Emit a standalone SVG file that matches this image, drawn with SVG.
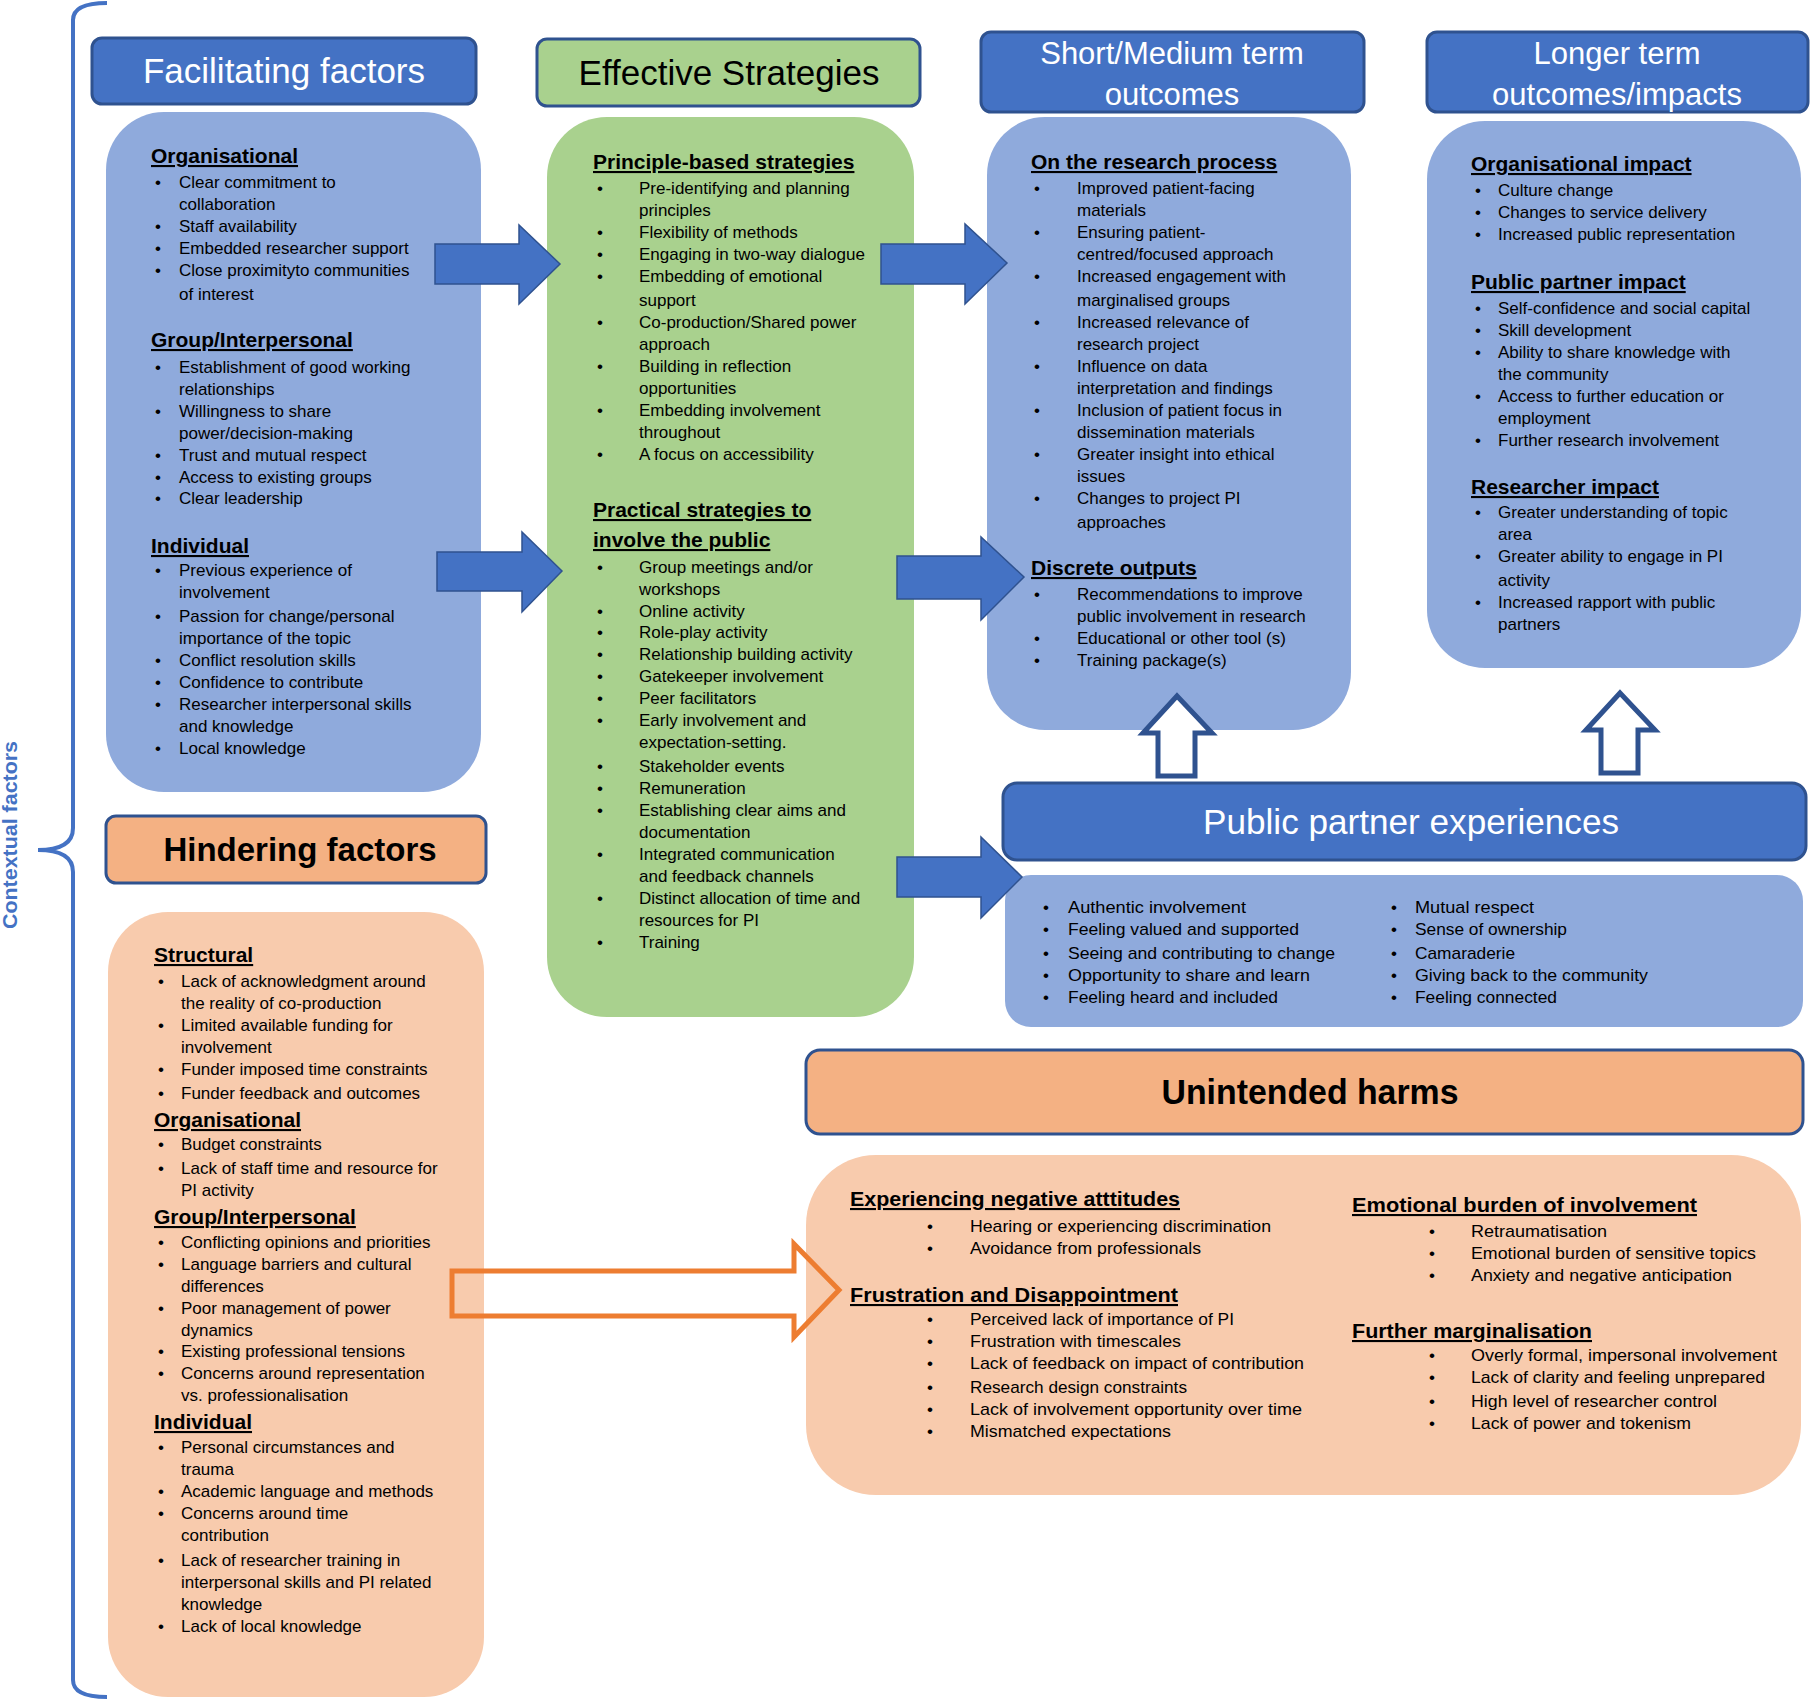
<svg xmlns="http://www.w3.org/2000/svg" width="1810" height="1701" viewBox="0 0 1810 1701">
<style>
.bh{fill:#4472C4;stroke:#2F528F;stroke-width:3}
.oh{fill:#F4B183;stroke:#2F528F;stroke-width:3}
.gh{fill:#A9D18E;stroke:#2F528F;stroke-width:3}
.lb{fill:#8FAADC}
.gb{fill:#A9D18E}
.ob{fill:#F8CBAD}
.arr{fill:#4472C4;stroke:#2F528F;stroke-width:1.5}
.harr{fill:#fff;stroke:#2F528F;stroke-width:5;stroke-linejoin:miter}
.oarr{fill:none;stroke:#ED7D31;stroke-width:5}
.hdr{font-family:"Liberation Sans",Arial,sans-serif;font-size:35px;fill:#fff;text-anchor:middle}
.t{font-family:"Liberation Sans",Arial,sans-serif;font-size:17px;fill:#000}
.h{font-weight:bold;font-size:21px;text-decoration:underline}
.n{font-family:"Liberation Sans Narrow","Liberation Sans",Arial,sans-serif}
</style>
<rect width="1810" height="1701" fill="#fff"/>

<g id="contextual-factors">
<path d="M107,3 Q73,3 73,20 L73,828 Q73,850 38,850 Q73,850 73,872 L73,1680 Q73,1697 107,1697" fill="none" stroke="#4472C4" stroke-width="4"/>
<text transform="translate(17,835) rotate(-90)" text-anchor="middle" font-family="Liberation Sans Narrow,Liberation Sans,sans-serif" font-size="20" font-weight="bold" fill="#4472C4" textLength="188" lengthAdjust="spacingAndGlyphs">Contextual factors</text>
</g>

<g id="facilitating-header">
<rect class="bh" x="92" y="38" width="384" height="66" rx="10"/>
<text class="hdr" x="284" y="83">Facilitating factors</text>
</g>
<g id="facilitating-box">
<rect class="lb" x="106" y="112" width="375" height="680" rx="58"/>
<text class="t">
<tspan class="h" x="151" y="163">Organisational</tspan>
<tspan x="155" y="188">•</tspan><tspan x="179">Clear commitment to</tspan>
<tspan x="179" y="210">collaboration</tspan>
<tspan x="155" y="232">•</tspan><tspan x="179">Staff availability</tspan>
<tspan x="155" y="254">•</tspan><tspan x="179">Embedded researcher support</tspan>
<tspan x="155" y="276">•</tspan><tspan x="179">Close proximityto communities</tspan>
<tspan x="179" y="300">of interest</tspan>
<tspan class="h" x="151" y="347">Group/Interpersonal</tspan>
<tspan x="155" y="373">•</tspan><tspan x="179">Establishment of good working</tspan>
<tspan x="179" y="395">relationships</tspan>
<tspan x="155" y="417">•</tspan><tspan x="179">Willingness to share</tspan>
<tspan x="179" y="439">power/decision-making</tspan>
<tspan x="155" y="461">•</tspan><tspan x="179">Trust and mutual respect</tspan>
<tspan x="155" y="483">•</tspan><tspan x="179">Access to existing groups</tspan>
<tspan x="155" y="504">•</tspan><tspan x="179">Clear leadership</tspan>
<tspan class="h" x="151" y="553">Individual</tspan>
<tspan x="155" y="576">•</tspan><tspan x="179">Previous experience of</tspan>
<tspan x="179" y="598">involvement</tspan>
<tspan x="155" y="622">•</tspan><tspan x="179">Passion for change/personal</tspan>
<tspan x="179" y="644">importance of the topic</tspan>
<tspan x="155" y="666">•</tspan><tspan x="179">Conflict resolution skills</tspan>
<tspan x="155" y="688">•</tspan><tspan x="179">Confidence to contribute</tspan>
<tspan x="155" y="710">•</tspan><tspan x="179">Researcher interpersonal skills</tspan>
<tspan x="179" y="732">and knowledge</tspan>
<tspan x="155" y="754">•</tspan><tspan x="179">Local knowledge</tspan>
</text>
</g>

<g id="strategies-header">
<rect class="gh" x="537" y="39" width="383" height="67" rx="10"/>
<text class="hdr" x="729" y="85" fill="#000" style="fill:#000">Effective Strategies</text>
</g>
<g id="strategies-box">
<rect class="gb" x="547" y="117" width="367" height="900" rx="60"/>
<text class="t">
<tspan class="h" x="593" y="169">Principle-based strategies</tspan>
<tspan x="597" y="194">•</tspan><tspan x="639">Pre-identifying and planning</tspan>
<tspan x="639" y="216">principles</tspan>
<tspan x="597" y="238">•</tspan><tspan x="639">Flexibility of methods</tspan>
<tspan x="597" y="260">•</tspan><tspan x="639">Engaging in two-way dialogue</tspan>
<tspan x="597" y="282">•</tspan><tspan x="639">Embedding of emotional</tspan>
<tspan x="639" y="306">support</tspan>
<tspan x="597" y="328">•</tspan><tspan x="639">Co-production/Shared power</tspan>
<tspan x="639" y="350">approach</tspan>
<tspan x="597" y="372">•</tspan><tspan x="639">Building in reflection</tspan>
<tspan x="639" y="394">opportunities</tspan>
<tspan x="597" y="416">•</tspan><tspan x="639">Embedding involvement</tspan>
<tspan x="639" y="438">throughout</tspan>
<tspan x="597" y="460">•</tspan><tspan x="639">A focus on accessibility</tspan>
<tspan class="h" x="593" y="517">Practical strategies to</tspan>
<tspan class="h" x="593" y="547">involve the public</tspan>
<tspan x="597" y="573">•</tspan><tspan x="639">Group meetings and/or</tspan>
<tspan x="639" y="595">workshops</tspan>
<tspan x="597" y="617">•</tspan><tspan x="639">Online activity</tspan>
<tspan x="597" y="638">•</tspan><tspan x="639">Role-play activity</tspan>
<tspan x="597" y="660">•</tspan><tspan x="639">Relationship building activity</tspan>
<tspan x="597" y="682">•</tspan><tspan x="639">Gatekeeper involvement</tspan>
<tspan x="597" y="704">•</tspan><tspan x="639">Peer facilitators</tspan>
<tspan x="597" y="726">•</tspan><tspan x="639">Early involvement and</tspan>
<tspan x="639" y="748">expectation-setting.</tspan>
<tspan x="597" y="772">•</tspan><tspan x="639">Stakeholder events</tspan>
<tspan x="597" y="794">•</tspan><tspan x="639">Remuneration</tspan>
<tspan x="597" y="816">•</tspan><tspan x="639">Establishing clear aims and</tspan>
<tspan x="639" y="838">documentation</tspan>
<tspan x="597" y="860">•</tspan><tspan x="639">Integrated communication</tspan>
<tspan x="639" y="882">and feedback channels</tspan>
<tspan x="597" y="904">•</tspan><tspan x="639">Distinct allocation of time and</tspan>
<tspan x="639" y="926">resources for PI</tspan>
<tspan x="597" y="948">•</tspan><tspan x="639">Training</tspan>
</text>
</g>

<g id="short-medium-header">
<rect class="bh" x="981" y="32" width="383" height="80" rx="10"/>
<text class="hdr" style="font-size:31px"><tspan x="1172" y="64">Short/Medium term</tspan><tspan x="1172" y="105">outcomes</tspan></text>
</g>
<g id="short-medium-box">
<rect class="lb" x="987" y="117" width="364" height="613" rx="58"/>
<text class="t">
<tspan class="h" x="1031" y="169">On the research process</tspan>
<tspan x="1034" y="194">•</tspan><tspan x="1077">Improved patient-facing</tspan>
<tspan x="1077" y="216">materials</tspan>
<tspan x="1034" y="238">•</tspan><tspan x="1077">Ensuring patient-</tspan>
<tspan x="1077" y="260">centred/focused approach</tspan>
<tspan x="1034" y="282">•</tspan><tspan x="1077">Increased engagement with</tspan>
<tspan x="1077" y="306">marginalised groups</tspan>
<tspan x="1034" y="328">•</tspan><tspan x="1077">Increased relevance of</tspan>
<tspan x="1077" y="350">research project</tspan>
<tspan x="1034" y="372">•</tspan><tspan x="1077">Influence on data</tspan>
<tspan x="1077" y="394">interpretation and findings</tspan>
<tspan x="1034" y="416">•</tspan><tspan x="1077">Inclusion of patient focus in</tspan>
<tspan x="1077" y="438">dissemination materials</tspan>
<tspan x="1034" y="460">•</tspan><tspan x="1077">Greater insight into ethical</tspan>
<tspan x="1077" y="482">issues</tspan>
<tspan x="1034" y="504">•</tspan><tspan x="1077">Changes to project PI</tspan>
<tspan x="1077" y="528">approaches</tspan>
<tspan class="h" x="1031" y="575">Discrete outputs</tspan>
<tspan x="1034" y="600">•</tspan><tspan x="1077">Recommendations to improve</tspan>
<tspan x="1077" y="622">public involvement in research</tspan>
<tspan x="1034" y="644">•</tspan><tspan x="1077">Educational or other tool (s)</tspan>
<tspan x="1034" y="666">•</tspan><tspan x="1077">Training package(s)</tspan>
</text>
</g>

<g id="longer-term-header">
<rect class="bh" x="1427" y="32" width="381" height="80" rx="10"/>
<text class="hdr" style="font-size:31px"><tspan x="1617" y="64">Longer term</tspan><tspan x="1617" y="105">outcomes/impacts</tspan></text>
</g>
<g id="longer-term-box">
<rect class="lb" x="1427" y="121" width="374" height="547" rx="58"/>
<text class="t">
<tspan class="h" x="1471" y="171">Organisational impact</tspan>
<tspan x="1475" y="196">•</tspan><tspan x="1498">Culture change</tspan>
<tspan x="1475" y="218">•</tspan><tspan x="1498">Changes to service delivery</tspan>
<tspan x="1475" y="240">•</tspan><tspan x="1498">Increased public representation</tspan>
<tspan class="h" x="1471" y="289">Public partner impact</tspan>
<tspan x="1475" y="314">•</tspan><tspan x="1498">Self-confidence and social capital</tspan>
<tspan x="1475" y="336">•</tspan><tspan x="1498">Skill development</tspan>
<tspan x="1475" y="358">•</tspan><tspan x="1498">Ability to share knowledge with</tspan>
<tspan x="1498" y="380">the community</tspan>
<tspan x="1475" y="402">•</tspan><tspan x="1498">Access to further education or</tspan>
<tspan x="1498" y="424">employment</tspan>
<tspan x="1475" y="446">•</tspan><tspan x="1498">Further research involvement</tspan>
<tspan class="h" x="1471" y="494">Researcher impact</tspan>
<tspan x="1475" y="518">•</tspan><tspan x="1498">Greater understanding of topic</tspan>
<tspan x="1498" y="540">area</tspan>
<tspan x="1475" y="562">•</tspan><tspan x="1498">Greater ability to engage in PI</tspan>
<tspan x="1498" y="586">activity</tspan>
<tspan x="1475" y="608">•</tspan><tspan x="1498">Increased rapport with public</tspan>
<tspan x="1498" y="630">partners</tspan>
</text>
</g>

<g id="partner-header">
<rect class="bh" x="1003" y="783" width="803" height="77" rx="14"/>
<text class="hdr n" x="1411" y="834" textLength="416" lengthAdjust="spacingAndGlyphs">Public partner experiences</text>
</g>
<g id="partner-box">
<rect class="lb" x="1005" y="875" width="798" height="152" rx="26"/>
<g class="t n" font-size="19">
<text x="1043" y="913">•</text><text x="1068" y="913" textLength="178" lengthAdjust="spacingAndGlyphs">Authentic involvement</text>
<text x="1043" y="935">•</text><text x="1068" y="935" textLength="231" lengthAdjust="spacingAndGlyphs">Feeling valued and supported</text>
<text x="1043" y="959">•</text><text x="1068" y="959" textLength="267" lengthAdjust="spacingAndGlyphs">Seeing and contributing to change</text>
<text x="1043" y="981">•</text><text x="1068" y="981" textLength="242" lengthAdjust="spacingAndGlyphs">Opportunity to share and learn</text>
<text x="1043" y="1003">•</text><text x="1068" y="1003" textLength="210" lengthAdjust="spacingAndGlyphs">Feeling heard and included</text>
<text x="1391" y="913">•</text><text x="1415" y="913" textLength="119" lengthAdjust="spacingAndGlyphs">Mutual respect</text>
<text x="1391" y="935">•</text><text x="1415" y="935" textLength="152" lengthAdjust="spacingAndGlyphs">Sense of ownership</text>
<text x="1391" y="959">•</text><text x="1415" y="959" textLength="100" lengthAdjust="spacingAndGlyphs">Camaraderie</text>
<text x="1391" y="981">•</text><text x="1415" y="981" textLength="233" lengthAdjust="spacingAndGlyphs">Giving back to the community</text>
<text x="1391" y="1003">•</text><text x="1415" y="1003" textLength="142" lengthAdjust="spacingAndGlyphs">Feeling connected</text>
</g>
</g>

<g id="hindering-header">
<rect class="oh" x="106" y="816" width="380" height="67" rx="10"/>
<text class="hdr" x="300" y="861" style="fill:#000;font-weight:bold;font-size:33px">Hindering factors</text>
</g>
<g id="hindering-box">
<rect class="ob" x="108" y="912" width="376" height="785" rx="60"/>
<text class="t">
<tspan class="h" x="154" y="962">Structural</tspan>
<tspan x="158" y="987">•</tspan><tspan x="181">Lack of acknowledgment around</tspan>
<tspan x="181" y="1009">the reality of co-production</tspan>
<tspan x="158" y="1031">•</tspan><tspan x="181">Limited available funding for</tspan>
<tspan x="181" y="1053">involvement</tspan>
<tspan x="158" y="1075">•</tspan><tspan x="181">Funder imposed time constraints</tspan>
<tspan x="158" y="1099">•</tspan><tspan x="181">Funder feedback and outcomes</tspan>
<tspan class="h" x="154" y="1127">Organisational</tspan>
<tspan x="158" y="1150">•</tspan><tspan x="181">Budget constraints</tspan>
<tspan x="158" y="1174">•</tspan><tspan x="181">Lack of staff time and resource for</tspan>
<tspan x="181" y="1196">PI activity</tspan>
<tspan class="h" x="154" y="1224">Group/Interpersonal</tspan>
<tspan x="158" y="1248">•</tspan><tspan x="181">Conflicting opinions and priorities</tspan>
<tspan x="158" y="1270">•</tspan><tspan x="181">Language barriers and cultural</tspan>
<tspan x="181" y="1292">differences</tspan>
<tspan x="158" y="1314">•</tspan><tspan x="181">Poor management of power</tspan>
<tspan x="181" y="1336">dynamics</tspan>
<tspan x="158" y="1357">•</tspan><tspan x="181">Existing professional tensions</tspan>
<tspan x="158" y="1379">•</tspan><tspan x="181">Concerns around representation</tspan>
<tspan x="181" y="1401">vs. professionalisation</tspan>
<tspan class="h" x="154" y="1429">Individual</tspan>
<tspan x="158" y="1453">•</tspan><tspan x="181">Personal circumstances and</tspan>
<tspan x="181" y="1475">trauma</tspan>
<tspan x="158" y="1497">•</tspan><tspan x="181">Academic language and methods</tspan>
<tspan x="158" y="1519">•</tspan><tspan x="181">Concerns around time</tspan>
<tspan x="181" y="1541">contribution</tspan>
<tspan x="158" y="1566">•</tspan><tspan x="181">Lack of researcher training in</tspan>
<tspan x="181" y="1588">interpersonal skills and PI related</tspan>
<tspan x="181" y="1610">knowledge</tspan>
<tspan x="158" y="1632">•</tspan><tspan x="181">Lack of local knowledge</tspan>
</text>
</g>

<g id="harms-header">
<rect class="oh" x="806" y="1050" width="997" height="84" rx="14"/>
<text class="hdr n" x="1310" y="1104" textLength="297" lengthAdjust="spacingAndGlyphs" style="fill:#000;font-weight:bold">Unintended harms</text>
</g>
<g id="harms-box">
<rect class="ob" x="806" y="1155" width="995" height="340" rx="70"/>
<g class="t n" font-size="19">
<text class="h" x="850" y="1206" textLength="330" lengthAdjust="spacingAndGlyphs">Experiencing negative atttitudes</text>
<text x="927" y="1232">•</text><text x="970" y="1232" textLength="301" lengthAdjust="spacingAndGlyphs">Hearing or experiencing discrimination</text>
<text x="927" y="1254">•</text><text x="970" y="1254" textLength="231" lengthAdjust="spacingAndGlyphs">Avoidance from professionals</text>
<text class="h" x="850" y="1302" textLength="328" lengthAdjust="spacingAndGlyphs">Frustration and Disappointment</text>
<text x="927" y="1325">•</text><text x="970" y="1325" textLength="264" lengthAdjust="spacingAndGlyphs">Perceived lack of importance of PI</text>
<text x="927" y="1347">•</text><text x="970" y="1347" textLength="211" lengthAdjust="spacingAndGlyphs">Frustration with timescales</text>
<text x="927" y="1369">•</text><text x="970" y="1369" textLength="334" lengthAdjust="spacingAndGlyphs">Lack of feedback on impact of contribution</text>
<text x="927" y="1393">•</text><text x="970" y="1393" textLength="217" lengthAdjust="spacingAndGlyphs">Research design constraints</text>
<text x="927" y="1415">•</text><text x="970" y="1415" textLength="332" lengthAdjust="spacingAndGlyphs">Lack of involvement opportunity over time</text>
<text x="927" y="1437">•</text><text x="970" y="1437" textLength="201" lengthAdjust="spacingAndGlyphs">Mismatched expectations</text>
<text class="h" x="1352" y="1212" textLength="345" lengthAdjust="spacingAndGlyphs">Emotional burden of involvement</text>
<text x="1429" y="1237">•</text><text x="1471" y="1237" textLength="136" lengthAdjust="spacingAndGlyphs">Retraumatisation</text>
<text x="1429" y="1259">•</text><text x="1471" y="1259" textLength="285" lengthAdjust="spacingAndGlyphs">Emotional burden of sensitive topics</text>
<text x="1429" y="1281">•</text><text x="1471" y="1281" textLength="261" lengthAdjust="spacingAndGlyphs">Anxiety and negative anticipation</text>
<text class="h" x="1352" y="1338" textLength="240" lengthAdjust="spacingAndGlyphs">Further marginalisation</text>
<text x="1429" y="1361">•</text><text x="1471" y="1361" textLength="306" lengthAdjust="spacingAndGlyphs">Overly formal, impersonal involvement</text>
<text x="1429" y="1383">•</text><text x="1471" y="1383" textLength="294" lengthAdjust="spacingAndGlyphs">Lack of clarity and feeling unprepared</text>
<text x="1429" y="1407">•</text><text x="1471" y="1407" textLength="246" lengthAdjust="spacingAndGlyphs">High level of researcher control</text>
<text x="1429" y="1429">•</text><text x="1471" y="1429" textLength="220" lengthAdjust="spacingAndGlyphs">Lack of power and tokenism</text>
</g>
</g>

<g id="connectors">
<polygon class="arr" points="435,244 519,244 519,225 560,264 519,304 519,284 435,284"/>
<polygon class="arr" points="437,552 522,552 522,532 562,571 522,612 522,591 437,591"/>
<polygon class="arr" points="881,244 965,244 965,224 1007,263 965,304 965,284 881,284"/>
<polygon class="arr" points="897,556 981,556 981,537 1024,577 981,620 981,599 897,599"/>
<polygon class="arr" points="897,857 981,857 981,837 1022,877 981,918 981,897 897,897"/>
<polygon class="harr" points="1177,696 1212,733 1195,733 1195,776 1158,776 1158,733 1143,733"/>
<polygon class="harr" points="1620,693 1655,730 1638,730 1638,773 1601,773 1601,730 1586,730"/>
<polygon class="oarr" points="452,1271 794,1271 794,1244 839,1290 794,1337 794,1316 452,1316"/>
</g>
</svg>
